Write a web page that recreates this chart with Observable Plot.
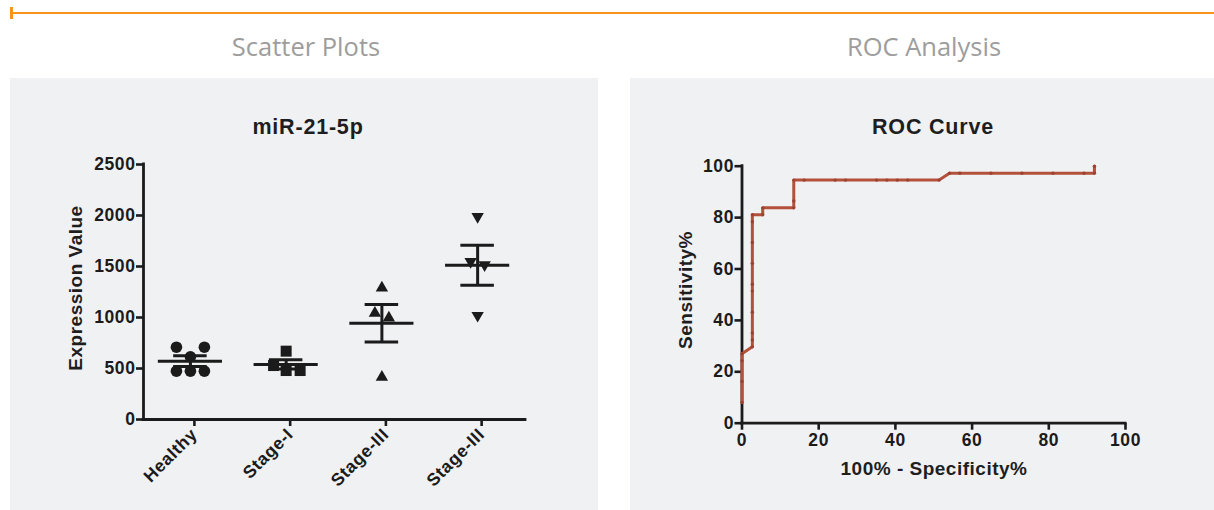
<!DOCTYPE html>
<html>
<head>
<meta charset="utf-8">
<script src="https://cdn.jsdelivr.net/npm/d3@7"></script>
<script src="https://cdn.jsdelivr.net/npm/@observablehq/plot@0.6"></script>
<style>
  html, body { margin: 0; padding: 0; background: #ffffff; }
  #page { position: relative; width: 1214px; height: 510px; overflow: hidden; background: #ffffff; }
  .abs { position: absolute; }
  .hdr { font-family: "Open Sans", sans-serif; font-weight: 400; font-size: 25.5px; color: #9d9d9d; white-space: nowrap; line-height: 1; transform: translate(-50%, -50%); }
  .ttl { font-family: "Liberation Sans", Arial, sans-serif; font-weight: bold; font-size: 21.5px; letter-spacing: 0.8px; color: #1e1e1e; white-space: nowrap; line-height: 1; transform: translate(-50%, -50%); }
  .lab { font-family: "Liberation Sans", Arial, sans-serif; font-weight: bold; font-size: 19px; letter-spacing: 0.5px; color: #1e1e1e; white-space: nowrap; line-height: 1; transform: translate(-50%, -50%); }
  .rot { transform: translate(-50%, -50%) rotate(-90deg); }
  .panel { position: absolute; background: #f0f1f3; }
  svg text { font-size: 17.5px; font-weight: bold; letter-spacing: 0.6px; }
</style>
</head>
<body>
<div id="page">
  <div class="abs" style="left:10px; top:11.5px; width:1204px; height:2.5px; background:#f7941d;"></div>
  <div class="abs" style="left:10px; top:7px; width:2.5px; height:12px; background:#f7941d;"></div>

  <div class="abs hdr" style="left:306px; top:47px;">Scatter Plots</div>
  <div class="abs hdr" style="left:924px; top:47px;">ROC Analysis</div>

  <div class="panel" id="leftPanel" style="left:10px; top:78px; width:588px; height:432px;"></div>
  <div class="panel" id="rightPanel" style="left:630px; top:78px; width:584px; height:432px;"></div>

  <div class="abs ttl" style="left:308px; top:128px;">miR-21-5p</div>
  <div class="abs ttl" style="left:933px; top:128px;">ROC Curve</div>
  <div class="abs lab rot" style="left:75px; top:288px;">Expression Value</div>
  <div class="abs lab rot" style="left:685px; top:290px;">Sensitivity%</div>
  <div class="abs lab" style="left:934px; top:468px;">100% - Specificity%</div>
</div>
<script>
// ---------- Scatter plot data ----------
const categories = ["Healthy", "Stage-I", "Stage-III", "Stage-III"];
const healthyValues = [709, 709, 615, 474, 474, 474];
const healthySlots  = [-1, 1, 0, -1, 0, 1];
const stageIValues  = [670, 529, 480, 480];
const stageISlots   = [0, -0.9, 0, 1];
const stageIIIaValues = [1291, 1042, 997, 415];
const stageIIIaSlots  = [0, -0.5, 0.5, 0];
const stageIIIbValues = [1990, 1549, 1516, 1020];
const stageIIIbSlots  = [0, -0.5, 0.5, 0];
const groupMeans = [572, 540, 944, 1512];
const groupSEM   = [52, 45, 183, 197];
const yTicks = [0, 500, 1000, 1500, 2000, 2500];

// ---------- ROC data ----------
const rocX = [0, 0, 0, 0, 2.7, 2.7, 2.7, 2.7, 2.7, 2.7, 2.7, 2.7, 2.7, 2.7, 5.4, 5.4, 13.5, 13.5, 13.5,
              16.2, 24.3, 27.0, 35.1, 37.8, 40.5, 43.2, 51.4, 54.1, 56.8, 64.9, 73.0, 81.1, 89.2, 91.9, 91.9];
const rocY = [8.1, 16.2, 24.3, 27.0, 29.7, 32.4, 35.1, 43.2, 51.4, 54.1, 62.2, 70.3, 78.4, 81.1, 81.1, 83.8, 83.8, 86.5, 94.6,
              94.6, 94.6, 94.6, 94.6, 94.6, 94.6, 94.6, 94.6, 97.3, 97.3, 97.3, 97.3, 97.3, 97.3, 97.3, 100];
const rocTicks = [0, 20, 40, 60, 80, 100];

const ink = "#1b1b1b";
const rocColor = "#b3513a";
const slotStep = 0.146;
const xDomain = [-0.49, 3.5];

const triangleDown = {
  draw(context, size) {
    const s3 = Math.sqrt(3);
    const y = -Math.sqrt(size / (s3 * 3));
    context.moveTo(0, -y * 2);
    context.lineTo(-s3 * y, y);
    context.lineTo(s3 * y, y);
    context.closePath();
  }
};

function group(values, slots, gi) {
  return values.map((v, k) => ({x: gi + slots[k] * slotStep, y: v}));
}
const groups = [0, 1, 2, 3];
const summary = groups.map(i => ({i, mean: groupMeans[i], sem: groupSEM[i]}));

const textStyle = {
  fontFamily: "'Liberation Sans', Arial, sans-serif",
  fontSize: "17.5px",
  fontWeight: "bold",
  color: ink,
  background: "transparent",
  overflow: "visible"
};

const leftPlot = Plot.plot({
  width: 588,
  height: 432,
  marginLeft: 133,
  marginRight: 73,
  marginTop: 86,
  marginBottom: 91,
  style: textStyle,
  x: {domain: xDomain},
  y: {domain: [0, 2500]},
  marks: [
    Plot.axisY({ticks: yTicks, tickFormat: d => String(d), tickSize: 7, tickPadding: 1, strokeWidth: 2.6, label: null, fontSize: 17.5}),
    Plot.axisX({ticks: groups, tickFormat: i => categories[i], tickRotate: -45, tickSize: 7, tickPadding: 5, dx: 4, strokeWidth: 2.6, label: null, fontSize: 17.5}),
    Plot.ruleY([0], {stroke: ink, strokeWidth: 2.8, strokeLinecap: "square"}),
    Plot.ruleX([xDomain[0]], {y1: 0, y2: 2500, stroke: ink, strokeWidth: 2.8, strokeLinecap: "square"}),
    Plot.dot(group(healthyValues, healthySlots, 0), {x: "x", y: "y", r: 5.8, fill: ink, stroke: "none", symbol: "circle"}),
    Plot.dot(group(stageIValues, stageISlots, 1), {x: "x", y: "y", r: 6.2, fill: ink, stroke: "none", symbol: "square"}),
    Plot.dot(group(stageIIIaValues, stageIIIaSlots, 2), {x: "x", y: "y", r: 4.6, fill: ink, stroke: "none", symbol: "triangle"}),
    Plot.dot(group(stageIIIbValues, stageIIIbSlots, 3), {x: "x", y: "y", r: 4.6, fill: ink, stroke: "none", symbol: triangleDown}),
    Plot.ruleY(summary, {y: "mean", x1: d => d.i - 0.335, x2: d => d.i + 0.335, stroke: ink, strokeWidth: 3}),
    Plot.ruleY(summary, {y: d => d.mean + d.sem, x1: d => d.i - 0.175, x2: d => d.i + 0.175, stroke: ink, strokeWidth: 3}),
    Plot.ruleY(summary, {y: d => d.mean - d.sem, x1: d => d.i - 0.175, x2: d => d.i + 0.175, stroke: ink, strokeWidth: 3}),
    Plot.ruleX(summary, {x: "i", y1: d => d.mean - d.sem, y2: d => d.mean + d.sem, stroke: ink, strokeWidth: 3})
  ]
});

const rocData = rocX.map((x, k) => ({x, y: rocY[k]}));

const rightPlot = Plot.plot({
  width: 584,
  height: 432,
  marginLeft: 111.5,
  marginRight: 89,
  marginTop: 87.7,
  marginBottom: 87.3,
  style: textStyle,
  x: {domain: [0, 100]},
  y: {domain: [0, 100]},
  marks: [
    Plot.axisY({ticks: rocTicks, tickFormat: d => String(d), tickSize: 7, tickPadding: 1, strokeWidth: 2.6, label: null, fontSize: 17.5}),
    Plot.axisX({ticks: rocTicks, tickFormat: d => String(d), tickSize: 7, tickPadding: 3, strokeWidth: 2.6, label: null, fontSize: 17.5}),
    Plot.ruleY([0], {x1: 0, x2: 100, stroke: ink, strokeWidth: 2.8, strokeLinecap: "square"}),
    Plot.ruleX([0], {y1: 0, y2: 100, stroke: ink, strokeWidth: 2.8, strokeLinecap: "square"}),
    Plot.line(rocData, {x: "x", y: "y", stroke: rocColor, strokeWidth: 3, strokeLinejoin: "miter"}),
    Plot.dot(rocData, {x: "x", y: "y", r: 1.7, fill: "#9d4230", stroke: "none"})
  ]
});

function place(svg, left, top) {
  svg.style.position = "absolute";
  svg.style.left = left + "px";
  svg.style.top = top + "px";
  document.getElementById("page").appendChild(svg);
}
place(leftPlot, 10, 78);
place(rightPlot, 630, 78);

document.querySelectorAll(".ttl, .lab, .hdr").forEach(el => document.getElementById("page").appendChild(el));
</script>
</body>
</html>
